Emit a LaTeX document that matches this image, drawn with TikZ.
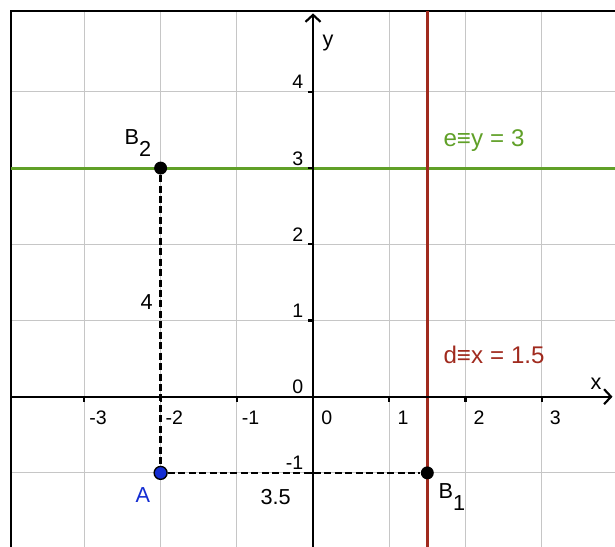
\documentclass[tikz,border=0pt]{standalone}
\usepackage{fontspec}
\setmainfont{Liberation Sans}
\usetikzlibrary{arrows.meta}
\definecolor{lineE}{RGB}{96,160,40}
\definecolor{lineD}{RGB}{160,42,30}
\definecolor{ptblue}{RGB}{20,45,210}
\newcommand{\lowidx}[1]{\raisebox{-4.5pt}{#1}}
\newcommand{\eqgap}{\hspace{2.6pt}=\hspace{2.6pt}}

\begin{document}
\begin{tikzpicture}[
  gridline/.style={gray!45, line width=0.4pt},
  axis/.style={black, line width=0.8pt, -{Straight Barb[length=2.6pt,width=5.6pt]}},
  tickmark/.style={black, line width=0.8pt},
  ticklabel/.style={inner sep=0pt, font=\fontsize{7.3}{9}\selectfont},
  lbl/.style={inner sep=0pt, font=\fontsize{8.1}{10}\selectfont},
  eqlbl/.style={inner sep=0pt, font=\fontsize{9}{11}\selectfont},
  dashline/.style={black, line width=1pt, dash pattern=on 2.6pt off 1.3pt},
  pt/.style={circle, fill=black, inner sep=0pt, minimum size=0.17cm},
]
\useasboundingbox (-4.108,-1.972) rectangle (3.963,5.206);

% Grid
\foreach \gx in {-3,-2,-1,1,2,3}
  \draw[gridline] (\gx,5.06) -- (\gx,-2.1);
\foreach \gy in {-1,1,2,3,4}
  \draw[gridline] (-3.963,\gy) -- (4.1,\gy);

% Frame
\draw[black, line width=0.6pt] (-3.963,-2.1) -- (-3.963,5.06) -- (4.1,5.06);

% Lines e and d
\draw[lineE, line width=1.1pt] (-3.963,3) -- (4.1,3);
\draw[lineD, line width=1.1pt] (1.5,5.06) -- (1.5,-2.1);

% Axes
\draw[axis] (-3.963,0) -- (3.93,0);
\draw[axis] (0,-2.1) -- (0,5.03);
\foreach \tx in {-3,-2,-1,1,2,3}
  \draw[tickmark] (\tx,0) -- (\tx,-0.07);
\foreach \ty in {-1,1,2,3,4}
  \draw[tickmark] (0,\ty) -- (-0.07,\ty);

% Tick labels
\foreach \tx in {-3,-2,-1,0,1,2,3}
  \node[ticklabel, anchor=base] at (\tx+0.18,-0.36) {\tx};
\foreach \ty in {-1,0,1,2,3,4}
  \node[ticklabel, anchor=base east] at (-0.12,\ty+0.04) {\ty};
\node[lbl, anchor=base west] (xlab) at (3.635,0.088) {x};
\node[lbl, anchor=base west] (ylab) at (0.118,4.60) {y};

% Points
\node[pt] (B2) at (-2,3) {};
\node[pt, fill=ptblue, draw=black, line width=0.5pt] (A) at (-2,-1) {};
\node[pt] (B1) at (1.5,-1) {};

% Dashed distances
\draw[dashline] (B2) -- (A);
\draw[dashline] (A) -- (B1);

% Labels
\node[lbl, anchor=base west] (labB2) at (-2.48,3.314) {B\lowidx{2}};
\node[lbl, anchor=base west, text=ptblue] (labA) at (-2.336,-1.395) {A};
\node[lbl, anchor=base west] (labB1) at (1.64,-1.33) {B\lowidx{1}};
\node[lbl, anchor=base west] (len4) at (-2.27,1.15) {4};
\node[lbl, anchor=base west] (len35) at (-0.696,-1.42) {3.5};
\node[eqlbl, anchor=base west, text=lineE] (labE) at (1.706,3.277) {e≡y\eqgap 3};
\node[eqlbl, anchor=base west, text=lineD] (labD) at (1.706,0.442) {d≡x\eqgap 1.5};

\end{tikzpicture}
\end{document}
